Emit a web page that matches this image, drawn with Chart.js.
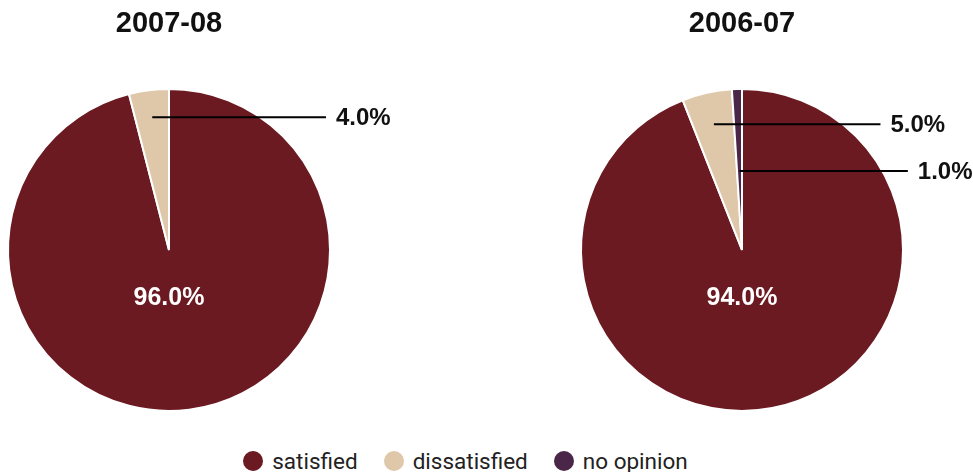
<!DOCTYPE html>
<html>
<head>
<meta charset="utf-8">
<script src="https://cdn.jsdelivr.net/npm/chart.js@4/dist/chart.umd.min.js"></script>
<style>
  body { margin: 0; background: #fff; }
  #wrap { position: relative; width: 973px; height: 472px; overflow: hidden; }
  canvas { position: absolute; top: 0; }
  #legend { position: absolute; left: -21px; top: 448px; width: 973px; display: flex; justify-content: center;
            font-family: Roboto, "Liberation Sans", sans-serif; font-size: 22.5px; color: #222; }
  #legend span.item { display: flex; align-items: center; margin: 0 13px; }
  #legend span.dot { width: 20px; height: 20px; border-radius: 50%; margin-right: 9px; display: inline-block; }
</style>
</head>
<body>
<div id="wrap">
  <canvas id="left"></canvas>
  <canvas id="right"></canvas>
  <div id="legend"></div>
</div>
<script>
var categories = ['satisfied', 'dissatisfied', 'no opinion'];
var colors = ['#6b1a21', '#dfc7aa', '#4a2748'];
var values0708 = [96.0, 4.0, 0];
var values0607 = [94.0, 5.0, 1.0];
var titles = ['2007-08', '2006-07'];

// where the leader line of each small slice starts (fraction of radius) and ends (x past centre)
var leaderStyle = {
  left: [null, { r: 0.83, end: 0.975 }, null],
  right: [null, { r: 0.8, end: 0.86 }, { r: 0.49, end: 1.03 }]
};

var pieLabels = {
  id: 'pieLabels',
  afterDatasetsDraw: function(chart, args, opts) {
    var ctx = chart.ctx;
    var meta = chart.getDatasetMeta(0);
    var data = chart.data.datasets[0].data;
    ctx.save();
    meta.data.forEach(function(arc, i) {
      var v = data[i];
      if (!v) return;
      var p = arc.getProps(['x', 'y', 'startAngle', 'endAngle', 'outerRadius']);
      var txt = v.toFixed(1) + '%';
      ctx.font = 'bold 24px "Liberation Sans", Arial, sans-serif';
      if (v > 50) {
        ctx.font = 'bold 25px "Liberation Sans", Arial, sans-serif';
        ctx.fillStyle = '#fff';
        ctx.textAlign = 'center';
        ctx.textBaseline = 'middle';
        ctx.fillText(txt, p.x, p.y + p.outerRadius * 0.3);
        return;
      }
      var st = opts.leaders[i];
      var mid = (p.startAngle + p.endAngle) / 2;
      var sx = p.x + Math.cos(mid) * p.outerRadius * st.r;
      var sy = p.y + Math.sin(mid) * p.outerRadius * st.r;
      var ex = p.x + p.outerRadius * st.end;
      ctx.strokeStyle = '#000';
      ctx.lineWidth = 2;
      ctx.beginPath();
      ctx.moveTo(sx, sy);
      ctx.lineTo(ex, sy);
      ctx.stroke();
      ctx.fillStyle = '#111';
      ctx.textAlign = 'left';
      ctx.textBaseline = 'middle';
      ctx.fillText(txt, ex + 10, sy + 1);
    });
    ctx.restore();
  }
};

function makePie(id, left, width, values, title, pad, leaders) {
  var el = document.getElementById(id);
  el.style.left = left + 'px';
  el.width = width;
  el.height = 440;
  el.style.width = width + 'px';
  el.style.height = '440px';
  return new Chart(el, {
    type: 'pie',
    data: {
      labels: categories,
      datasets: [{
        data: values,
        backgroundColor: colors,
        borderColor: '#fff',
        borderWidth: 2,
        offset: 0,
        hoverOffset: 0
      }]
    },
    plugins: [pieLabels],
    options: {
      responsive: false,
      animation: false,
      events: [],
      layout: { padding: pad },
      plugins: {
        legend: { display: false },
        tooltip: { enabled: false },
        title: {
          display: true,
          text: title,
          color: '#111',
          font: { family: '"Liberation Sans", Arial, sans-serif', size: 29, weight: 'bold' },
          padding: { top: 7, bottom: 46 }
        },
        pieLabels: { leaders: leaders }
      }
    }
  });
}

makePie('left', 0, 486, values0708, titles[0], { left: 7, right: 155, top: 0, bottom: 28 }, leaderStyle.left);
makePie('right', 486, 487, values0607, titles[1], { left: 94, right: 69, top: 0, bottom: 28 }, leaderStyle.right);

var lg = document.getElementById('legend');
categories.forEach(function(c, i) {
  var item = document.createElement('span');
  item.className = 'item';
  var dot = document.createElement('span');
  dot.className = 'dot';
  dot.style.background = colors[i];
  item.appendChild(dot);
  item.appendChild(document.createTextNode(c));
  lg.appendChild(item);
});
</script>
</body>
</html>
